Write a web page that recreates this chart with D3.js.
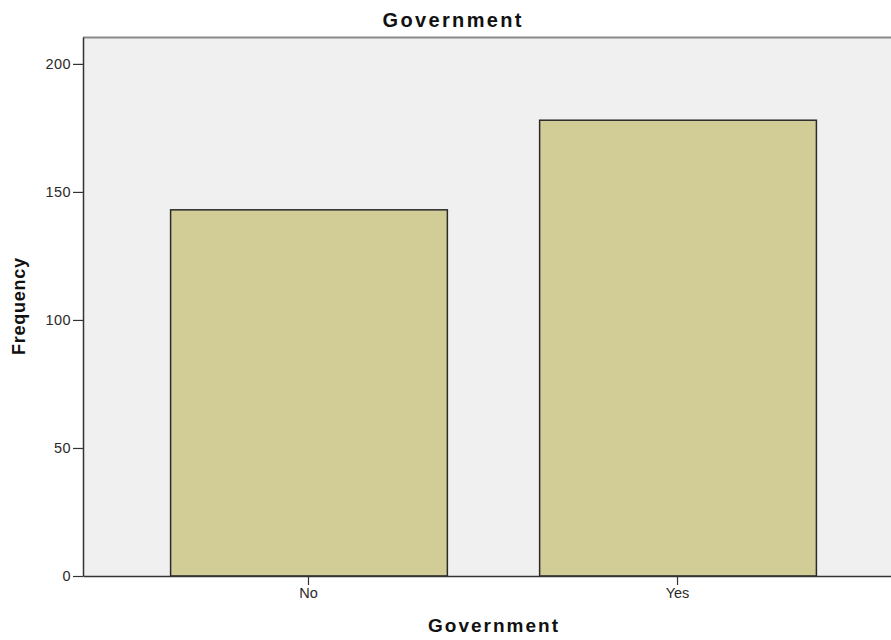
<!DOCTYPE html>
<html>
<head>
<meta charset="utf-8">
<script src="https://cdn.jsdelivr.net/npm/d3@7"></script>
<style>
  html, body { margin: 0; padding: 0; background: #ffffff; overflow: hidden; }
  svg { display: block; }
</style>
</head>
<body>
<script>
// ---- data ----
const categories = ["No", "Yes"];
const frequencies = [143, 178];
const yTicks = [0, 50, 100, 150, 200];
const chartTitle = "Government";
const xTitle = "Government";
const yTitle = "Frequency";

// ---- layout ----
const W = 891, H = 640;
const plot = { left: 83, top: 37, right: 903, bottom: 576 };

const svg = d3.select("body").append("svg")
  .attr("width", W).attr("height", H);

const x = d3.scaleBand()
  .domain(categories)
  .range([plot.left, plot.right])
  .paddingInner(0.25)
  .paddingOuter(0.236);

const y = d3.scaleLinear()
  .domain([0, 210.5])
  .range([plot.bottom, plot.top]);

// plot background
svg.append("rect")
  .attr("x", plot.left).attr("y", plot.top)
  .attr("width", plot.right - plot.left)
  .attr("height", plot.bottom - plot.top)
  .attr("fill", "#f0f0f0");

// top border (grey)
svg.append("line")
  .attr("x1", plot.left).attr("x2", plot.right)
  .attr("y1", plot.top + 0.5).attr("y2", plot.top + 0.5)
  .attr("stroke", "#8a8a8a").attr("stroke-width", 2);

// bars
const data = categories.map((c, i) => ({ c, v: frequencies[i] }));
svg.append("g").selectAll("rect").data(data).join("rect")
  .attr("x", d => x(d.c) + 0.5)
  .attr("y", d => y(d.v))
  .attr("width", x.bandwidth())
  .attr("height", d => y(0) - y(d.v))
  .attr("fill", "#d2cd96")
  .attr("stroke", "#2a2a2a")
  .attr("stroke-width", 1.5);

// y axis
const yAxis = d3.axisLeft(y).tickValues(yTicks).tickSize(10).tickSizeOuter(0).tickPadding(2).tickFormat(d3.format("d"));
const gy = svg.append("g").attr("transform", `translate(${plot.left},0)`).call(yAxis);
gy.select(".domain").attr("stroke", "#333").attr("stroke-width", 1.5);
gy.selectAll(".tick line").attr("stroke", "#333").attr("stroke-width", 1.2);
gy.selectAll(".tick text")
  .attr("font-family", "'Liberation Sans', Arial, sans-serif")
  .attr("font-size", 14.5).attr("fill", "#2a2a2a")
  .attr("letter-spacing", 0.4);

// x axis
const xAxis = d3.axisBottom(x).tickSize(9).tickSizeOuter(0).tickPadding(3);
const gx = svg.append("g").attr("transform", `translate(0,${plot.bottom})`).call(xAxis);
gx.select(".domain").attr("stroke", "#333").attr("stroke-width", 1.5);
gx.selectAll(".tick line").attr("stroke", "#333").attr("stroke-width", 1.2);
gx.selectAll(".tick text")
  .attr("font-family", "'Liberation Sans', Arial, sans-serif")
  .attr("font-size", 14.5).attr("fill", "#2a2a2a");

// titles
svg.append("text")
  .attr("x", 452).attr("y", 27)
  .attr("text-anchor", "middle")
  .attr("font-family", "'Liberation Sans', Arial, sans-serif")
  .attr("font-weight", "bold").attr("font-size", 20)
  .attr("textLength", 139).attr("lengthAdjust", "spacing")
  .attr("fill", "#111")
  .text(chartTitle);

svg.append("text")
  .attr("x", 493).attr("y", 632)
  .attr("text-anchor", "middle")
  .attr("font-family", "'Liberation Sans', Arial, sans-serif")
  .attr("font-weight", "bold").attr("font-size", 19)
  .attr("textLength", 130).attr("lengthAdjust", "spacing")
  .attr("fill", "#111")
  .text(xTitle);

svg.append("text")
  .attr("transform", `translate(25,306.5) rotate(-90)`)
  .attr("text-anchor", "middle")
  .attr("font-family", "'Liberation Sans', Arial, sans-serif")
  .attr("font-weight", "bold").attr("font-size", 18)
  .attr("textLength", 97).attr("lengthAdjust", "spacing")
  .attr("fill", "#111")
  .text(yTitle);
</script>
</body>
</html>
